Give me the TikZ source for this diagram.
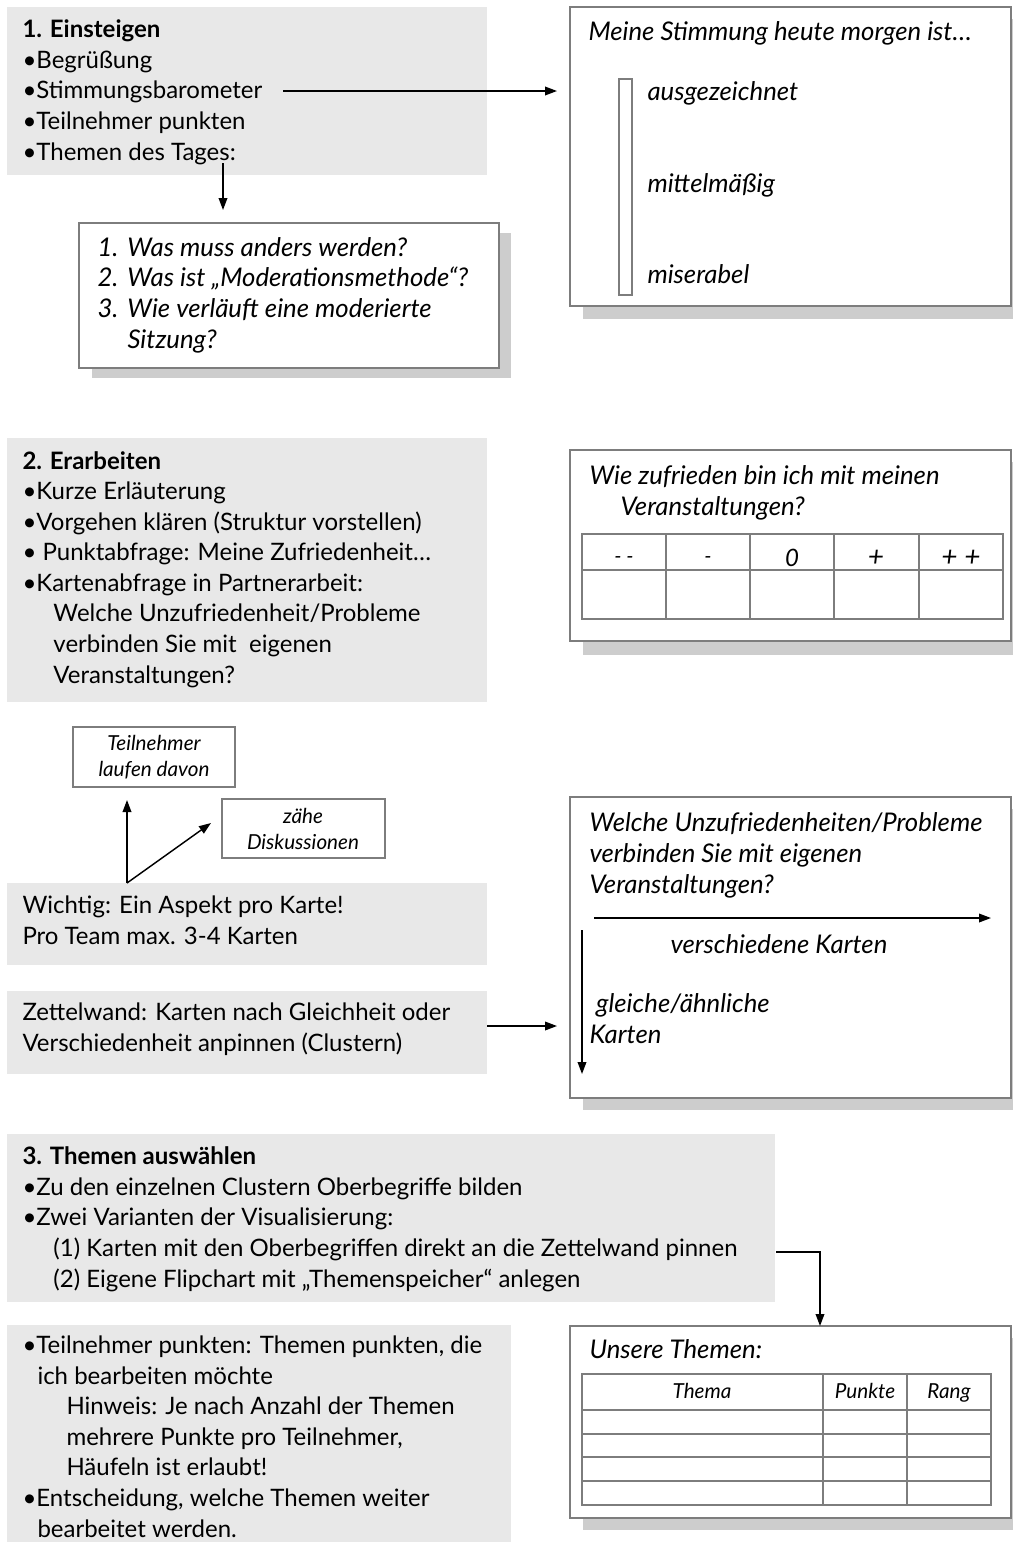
\documentclass[tikz,border=0pt]{standalone}
\usepackage{fontspec}
\setmainfont{Lato}[Numbers=Lining]
\usetikzlibrary{arrows.meta,fit}

\definecolor{boxgray}{RGB}{232,232,232}
\definecolor{shadowgray}{RGB}{205,205,205}
\definecolor{framegray}{RGB}{125,125,125}

\newcommand{\qnum}[1]{\makebox[22.5pt][l]{#1}}

\tikzset{every picture/.style={line width=0.75pt}}

\begin{document}
\begin{tikzpicture}[x=0.75pt,y=0.75pt,yscale=-1,xscale=1,
  graybox/.style={fill=boxgray,draw=none,inner sep=0pt,outer sep=0pt},
  flipchart/.style={draw=framegray,line width=1.2pt,fill=white,inner sep=0pt,outer sep=0pt},
  card/.style={draw=framegray,line width=0.9pt,fill=white,inner sep=0pt,outer sep=0pt},
  body/.style={anchor=base west,inner sep=0pt,align=left,font=\fontsize{18}{22.9}\selectfont},
  hand/.style={anchor=base west,inner sep=0pt,align=left,font=\fontsize{19.3}{22.9}\selectfont\itshape},
  cardtext/.style={anchor=base,inner sep=0pt,align=center,font=\fontsize{15.5}{19.5}\selectfont\itshape},
  celltext/.style={anchor=base,inner sep=0pt,font=\fontsize{15.5}{17}\selectfont\itshape},
  tabline/.style={draw=framegray,line width=0.9pt},
  arr/.style={-{Triangle[length=9pt,width=6.5pt]},line width=1.1pt},
]
\useasboundingbox (0,0) rectangle (1013,1542);
\clip (0,0) rectangle (1013,1542);

%Shape: Shadows
\fill[shadowgray] (92,233) rectangle (511,378);
\fill[shadowgray] (583,19) rectangle (1025,319);
\fill[shadowgray] (583,462) rectangle (1025,655);
\fill[shadowgray] (583,809) rectangle (1025,1110);
\fill[shadowgray] (583,1338) rectangle (1025,1530);

%Shape: Gray boxes
\node[graybox, fit={(7,7) (487,175)}] (einst) {};
\node[graybox, fit={(7,438) (487,702)}] (erarb) {};
\node[graybox, fit={(7,883) (487,965)}] (wichtig) {};
\node[graybox, fit={(7,991) (487,1074)}] (zettel) {};
\node[graybox, fit={(7,1134) (775,1302)}] (auswahl) {};
\node[graybox, fit={(7,1325) (511,1560)}] (punkten) {};

%Shape: Flipcharts
\node[flipchart, fit={(79,223) (499,368)}] (fragen) {};
\node[flipchart, fit={(570,7) (1011,306)}] (mood) {};
\node[flipchart, fit={(570,450) (1011,641)}] (zufr) {};
\node[flipchart, fit={(570,797) (1011,1098)}] (cluster) {};
\node[flipchart, fit={(570,1326) (1011,1518)}] (themen) {};

%Shape: Cards
\node[card, fit={(73,727) (235,787)}] (davon) {};
\node[card, fit={(222,799) (385,858)}] (zaehe) {};

%Shape: Barometer
\draw[tabline] (619,79) rectangle (632,295);

%Shape: Table Zufriedenheit
\draw[tabline] (582,534) rectangle (1003,619);
\draw[tabline] (582,570) -- (1003,570);
\draw[tabline] (666,534) -- (666,619);
\draw[tabline] (750,534) -- (750,619);
\draw[tabline] (834,534) -- (834,619);
\draw[tabline] (919,534) -- (919,619);

%Shape: Table Themen
\draw[tabline] (582,1374) rectangle (991,1505);
\draw[tabline] (582,1410) -- (991,1410);
\draw[tabline] (582,1434) -- (991,1434);
\draw[tabline] (582,1457) -- (991,1457);
\draw[tabline] (582,1481) -- (991,1481);
\draw[tabline] (823,1374) -- (823,1505);
\draw[tabline] (907,1374) -- (907,1505);

% Text Node
\node[body] (einsttext) at (22,160) {\textbf{1. Einsteigen}\\•Begrüßung\\•Stimmungsbarometer\\•Teilnehmer punkten\\•Themen des Tages:};
% Text Node
\node[hand] (fragentext) at (97,348) {\qnum{1.}Was muss anders werden?\\\qnum{2.}Was ist „Moderationsmethode“?\\\qnum{3.}Wie verläuft eine moderierte\\\qnum{}Sitzung?};
% Text Node
\node[hand] (moodtitle) at (588,40) {Meine Stimmung heute morgen ist…};
\node[hand] (best) at (647,100) {ausgezeichnet};
\node[hand] (middle) at (647,192) {mittelmäßig};
\node[hand] (worst) at (647,283) {miserabel};
% Text Node
\node[body] (erarbtext) at (22,683) {\textbf{2. Erarbeiten}\\•Kurze Erläuterung\\•Vorgehen klären (Struktur vorstellen)\\• Punktabfrage: Meine Zufriedenheit…\\•Kartenabfrage in Partnerarbeit:\\\hspace*{23.25pt}Welche Unzufriedenheit/Probleme\\\hspace*{23.25pt}verbinden Sie mit\ \ eigenen\\\hspace*{23.25pt}Veranstaltungen?};
% Text Node
\node[hand] (zufrtext) at (589,515) {Wie zufrieden bin ich mit meinen\\\hspace*{23.25pt}Veranstaltungen?};
\node[celltext] (verybad) at (624,563) {- -};
\node[celltext] (bad) at (708,563) {-};
\node[celltext, font=\fontsize{18}{19}\selectfont\itshape] (neutral) at (792,566) {0};
\node[celltext, font=\fontsize{21}{22}\selectfont\itshape] (good) at (876,566) {+};
\node[celltext, font=\fontsize{21}{22}\selectfont\itshape] (verygood) at (961,566) {+ +};
% Text Node
\node[cardtext] (davontext) at (154,776) {Teilnehmer\\laufen davon};
\node[cardtext] (zaehetext) at (303,849) {zähe\\Diskussionen};
% Text Node
\node[body] (wichtigtext) at (22,944) {Wichtig: Ein Aspekt pro Karte!\\Pro Team max. 3-4 Karten};
\node[body] (zetteltext) at (22,1051) {Zettelwand: Karten nach Gleichheit oder\\Verschiedenheit anpinnen (Clustern)};
% Text Node
\node[hand] (clustertext) at (589,893) {Welche Unzufriedenheiten/Probleme\\verbinden Sie mit eigenen\\Veranstaltungen?};
\node[hand] (diffcards) at (670,953) {verschiedene Karten};
\node[hand] (samecards) at (589,1043) {\hspace*{5pt}gleiche/ähnliche\\Karten};
% Text Node
\node[body] (auswahltext) at (22,1287) {\textbf{3. Themen auswählen}\\•Zu den einzelnen Clustern Oberbegriffe bilden\\•Zwei Varianten der Visualisierung:\\\hspace*{23.25pt}(1) Karten mit den Oberbegriffen direkt an die Zettelwand pinnen\\\hspace*{23.25pt}(2) Eigene Flipchart mit „Themenspeicher“ anlegen};
% Text Node
\node[body] (punktentext) at (22,1537) {•Teilnehmer punkten: Themen punkten, die\\\hspace*{11.25pt}ich bearbeiten möchte\\\hspace*{33pt}Hinweis: Je nach Anzahl der Themen\\\hspace*{33pt}mehrere Punkte pro Teilnehmer,\\\hspace*{33pt}Häufeln ist erlaubt!\\•Entscheidung, welche Themen weiter\\\hspace*{11.25pt}bearbeitet werden.};
% Text Node
\node[hand] (thementitle) at (589,1358) {Unsere Themen:};
\node[celltext] (thema) at (702,1398) {Thema};
\node[celltext] (punkte) at (865,1398) {Punkte};
\node[celltext] (rang) at (949,1398) {Rang};

%Straight Lines
\coordinate (barofrom) at (283,91);
\draw[arr,shorten >=9.75pt] (barofrom) -- (barofrom -| mood.west);
\coordinate (tagesfrom) at (223,163);
\draw[arr,shorten >=9.75pt] (tagesfrom) -- (tagesfrom |- fragen.north);
\coordinate (fork) at (127,883);
\draw[arr,shorten >=9.75pt] (fork) -- (fork |- davon.south);
\coordinate (zaeheto) at (211,823);
\draw[arr] (fork) -- (zaeheto);
\coordinate (zettelfrom) at (487,1026);
\draw[arr,shorten >=9.75pt] (zettelfrom) -- (zettelfrom -| cluster.west);
\coordinate (diffleft) at (594,918);
\coordinate (diffright) at (991,918);
\draw[arr] (diffleft) -- (diffright);
\coordinate (sametop) at (582,930);
\coordinate (samebottom) at (582,1074);
\draw[arr] (sametop) -- (samebottom);
\coordinate (varfrom) at (776,1252);
\coordinate (varcorner) at (820,1252);
\draw[arr] (varfrom) -- (varcorner) -- (varcorner |- themen.north);

\end{tikzpicture}
\end{document}
